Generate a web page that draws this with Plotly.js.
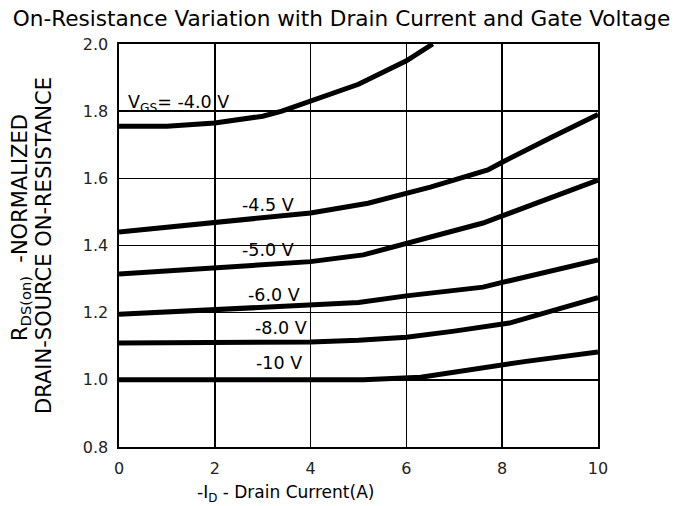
<!DOCTYPE html>
<html>
<head>
<meta charset="utf-8">
<script src="https://cdn.plot.ly/plotly-3.0.1.min.js"></script>
<style>html,body{margin:0;padding:0;background:#fff;}#chart{width:683px;height:506px;}</style>
</head>
<body>
<div id="chart"></div>
<script>
// Drain current (A) and normalized on-resistance per gate voltage
const x_vgs4p0 = [0, 1, 2, 3, 3.4, 4, 5, 6, 6.55];
const y_vgs4p0 = [1.755, 1.755, 1.765, 1.785, 1.80, 1.83, 1.88, 1.95, 2.0];

const x_vgs4p5 = [0, 2, 4, 5.2, 6.5, 7.7, 8, 9, 10];
const y_vgs4p5 = [1.44, 1.467, 1.497, 1.526, 1.574, 1.625, 1.648, 1.72, 1.79];

const x_vgs5p0 = [0, 2, 4, 5.1, 6, 7.6, 8, 9, 10];
const y_vgs5p0 = [1.315, 1.335, 1.352, 1.372, 1.407, 1.467, 1.488, 1.542, 1.595];

const x_vgs6p0 = [0, 2, 4, 5, 6, 7.6, 8, 9, 10];
const y_vgs6p0 = [1.195, 1.208, 1.222, 1.23, 1.25, 1.276, 1.29, 1.323, 1.357];

const x_vgs8p0 = [0, 2, 4, 5, 6, 7, 8.15, 9, 10];
const y_vgs8p0 = [1.11, 1.11, 1.113, 1.118, 1.127, 1.145, 1.169, 1.204, 1.245];

const x_vgs10 = [0, 2, 4, 5.1, 6.3, 7.5, 8.5, 10];
const y_vgs10 = [1.0, 1.0, 1.0, 1.0, 1.008, 1.035, 1.055, 1.083];

const seriesNames = ["V_GS = -4.0 V", "-4.5 V", "-5.0 V", "-6.0 V", "-8.0 V", "-10 V"];
const xs = [x_vgs4p0, x_vgs4p5, x_vgs5p0, x_vgs6p0, x_vgs8p0, x_vgs10];
const ys = [y_vgs4p0, y_vgs4p5, y_vgs5p0, y_vgs6p0, y_vgs8p0, y_vgs10];

// Curve labels
const labelTexts = ["V<sub>GS</sub>= -4.0 V", "-4.5 V", "-5.0 V", "-6.0 V", "-8.0 V", "-10 V"];
const labelX = [0.15, 2.53, 2.53, 2.66, 2.80, 2.82];
const labelY = [1.824, 1.52, 1.387, 1.253, 1.154, 1.05];

const xTicks = [0, 2, 4, 6, 8, 10];
const yTicks = [0.8, 1.0, 1.2, 1.4, 1.6, 1.8, 2.0];

const FONT = "DejaVu Sans, Verdana, sans-serif";

const traces = xs.map((x, i) => ({
  x: x, y: ys[i], type: "scatter", mode: "lines", name: seriesNames[i],
  line: {color: "#000", width: 5}, showlegend: false, hoverinfo: "skip"
}));

// plot area in pixels: left 119, right 598, top 44, bottom 447
const PL = 119, PR = 598, PT = 44, PB = 447;
const px2paperX = p => (p - PL) / (PR - PL);
const px2paperY = p => (PB - p) / (PB - PT);

const annotations = labelTexts.map((t, i) => ({
  x: labelX[i], y: labelY[i], xref: "x", yref: "y", text: t, showarrow: false,
  xanchor: "left", yanchor: "middle", font: {family: FONT, size: 17.5, color: "#000"}
}));
annotations.push({
  x: px2paperX(285), y: px2paperY(493), xref: "paper", yref: "paper",
  text: "-I<sub>D</sub> - Drain Current(A)", showarrow: false,
  xanchor: "center", yanchor: "middle", font: {family: FONT, size: 17, color: "#000"}
});
annotations.push({
  x: px2paperX(21), y: px2paperY(228), xref: "paper", yref: "paper",
  text: "R<sub>DS(on)</sub>  -NORMALIZED", textangle: -90, showarrow: false,
  xanchor: "center", yanchor: "middle", font: {family: FONT, size: 21, color: "#000"}
});

const layout = {
  width: 683, height: 506,
  margin: {l: PL, r: 683 - PR, t: PT, b: 506 - PB},
  paper_bgcolor: "#fff", plot_bgcolor: "#fff",
  font: {family: FONT, color: "#000"},
  title: {text: "On-Resistance Variation with Drain Current and Gate Voltage",
          font: {family: FONT, size: 21.6, color: "#000"}, x: 0.5, xanchor: "center", y: 0.964, yanchor: "middle"},
  xaxis: {
    range: [0, 10], tickvals: xTicks, ticktext: xTicks.map(String),
    showgrid: true, gridcolor: "#000", gridwidth: 1.6, zeroline: false,
    showline: true, linecolor: "#000", linewidth: 1.6, mirror: true,
    ticks: "", ticklabelstandoff: 6, tickfont: {family: FONT, size: 16, color: "#222"}
  },
  yaxis: {
    range: [0.8, 2.0], tickvals: yTicks, ticktext: yTicks.map(v => v.toFixed(1)),
    showgrid: true, gridcolor: "#000", gridwidth: 1.6, zeroline: false,
    showline: true, linecolor: "#000", linewidth: 1.6, mirror: true,
    ticks: "", ticklabelstandoff: 6, tickfont: {family: FONT, size: 16, color: "#222"},
    title: {text: "DRAIN-SOURCE ON-RESISTANCE",
            font: {family: FONT, size: 21, color: "#000"}, standoff: 25}
  },
  annotations: annotations
};

Plotly.newPlot("chart", traces, layout, {staticPlot: true, displayModeBar: false});
</script>
</body>
</html>
